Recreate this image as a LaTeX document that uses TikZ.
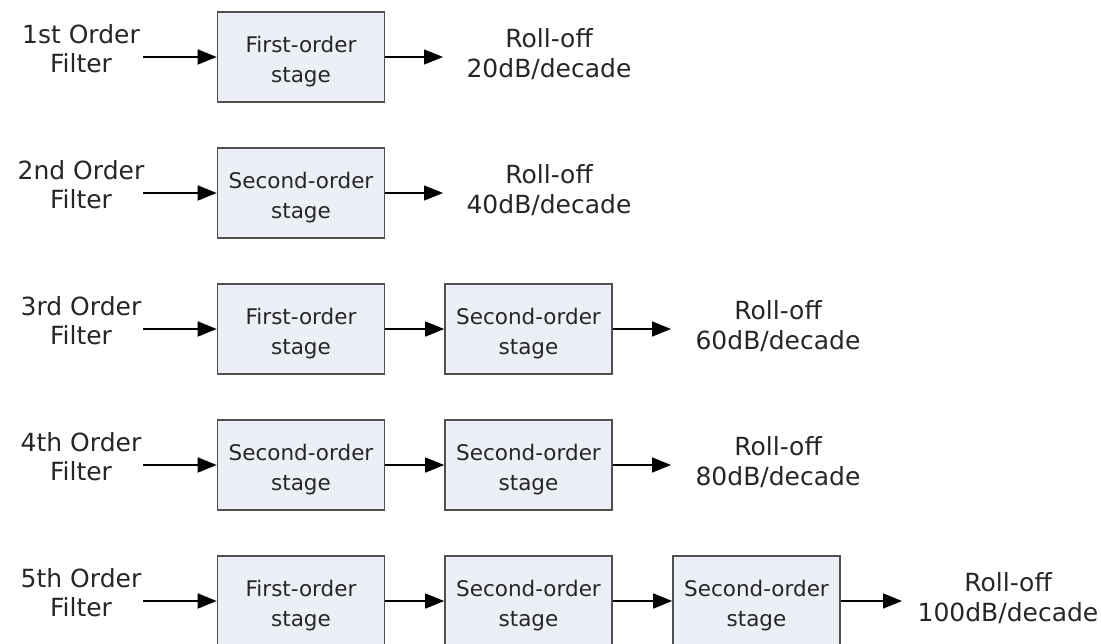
\documentclass[tikz,border=0pt]{standalone}
\usepackage{fontspec}
\setmainfont{DejaVu Sans}
\usetikzlibrary{arrows.meta}
\definecolor{boxfill}{RGB}{236,239,245}
\definecolor{boxline}{RGB}{80,80,80}
\newcommand{\stagetext}[2]{\rule{0pt}{25pt}#1\\#2}
\tikzset{
  stagebox/.style={draw=boxline, fill=boxfill, line width=1.6pt, minimum width=167pt, minimum height=90pt, inner sep=0pt, align=center, font=\fontsize{21.5}{30}\selectfont, text=black!85},
  orderlabel/.style={align=center, inner sep=0pt, font=\fontsize{25}{29}\selectfont, text=black!85},
  rolloff/.style={align=center, inner sep=0pt, font=\fontsize{25}{30}\selectfont, text=black!85},
  sig/.style={line width=1.5pt, -{Triangle[length=19pt,width=15pt]}}
}
\begin{document}
\begin{tikzpicture}[x=1pt,y=-1pt]
\useasboundingbox (0,0) rectangle (1101,644);
% Row 1
\node[orderlabel] (l1) at (81,49) {1st Order\\Filter};
\coordinate (i1) at (143,57);
\node[stagebox] (b11) at (301,57) {\stagetext{First-order}{stage}};
\coordinate (o1) at (443,57);
\node[rolloff] (r1) at (549,54) {Roll-off\\20dB/decade};
\draw[sig] (i1) -- (b11);
\draw[sig] (b11) -- (o1);
% Row 2
\node[orderlabel] (l2) at (81,185) {2nd Order\\Filter};
\coordinate (i2) at (143,193);
\node[stagebox] (b21) at (301,193) {\stagetext{Second-order}{stage}};
\coordinate (o2) at (443,193);
\node[rolloff] (r2) at (549,190) {Roll-off\\40dB/decade};
\draw[sig] (i2) -- (b21);
\draw[sig] (b21) -- (o2);
% Row 3
\node[orderlabel] (l3) at (81,321) {3rd Order\\Filter};
\coordinate (i3) at (143,329);
\node[stagebox] (b31) at (301,329) {\stagetext{First-order}{stage}};
\node[stagebox] (b32) at (528.5,329) {\stagetext{Second-order}{stage}};
\coordinate (o3) at (671,329);
\node[rolloff] (r3) at (778,326) {Roll-off\\60dB/decade};
\draw[sig] (i3) -- (b31);
\draw[sig] (b31) -- (b32);
\draw[sig] (b32) -- (o3);
% Row 4
\node[orderlabel] (l4) at (81,457) {4th Order\\Filter};
\coordinate (i4) at (143,465);
\node[stagebox] (b41) at (301,465) {\stagetext{Second-order}{stage}};
\node[stagebox] (b42) at (528.5,465) {\stagetext{Second-order}{stage}};
\coordinate (o4) at (671,465);
\node[rolloff] (r4) at (778,462) {Roll-off\\80dB/decade};
\draw[sig] (i4) -- (b41);
\draw[sig] (b41) -- (b42);
\draw[sig] (b42) -- (o4);
% Row 5
\node[orderlabel] (l5) at (81,593) {5th Order\\Filter};
\coordinate (i5) at (143,601);
\node[stagebox] (b51) at (301,601) {\stagetext{First-order}{stage}};
\node[stagebox] (b52) at (528.5,601) {\stagetext{Second-order}{stage}};
\node[stagebox] (b53) at (756.5,601) {\stagetext{Second-order}{stage}};
\coordinate (o5) at (902,601);
\node[rolloff] (r5) at (1008,598) {Roll-off\\100dB/decade};
\draw[sig] (i5) -- (b51);
\draw[sig] (b51) -- (b52);
\draw[sig] (b52) -- (b53);
\draw[sig] (b53) -- (o5);
\end{tikzpicture}
\end{document}
